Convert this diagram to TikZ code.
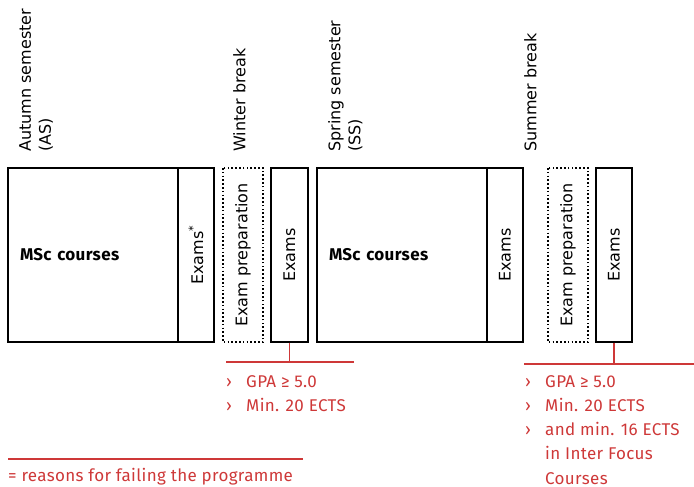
\documentclass[tikz,border=0pt]{standalone}
\usepackage{fontspec}
\setmainfont{DejaVu Sans}
\newfontfamily\dinfont[LetterSpace=2]{Fira Sans}
\usetikzlibrary{positioning}
\definecolor{failred}{RGB}{206,56,56}

\tikzset{
  phase/.style={draw, line width=1.2pt, minimum height=174pt, inner sep=0pt},
  examcol/.style={draw, line width=1.2pt, rotate=90, minimum width=174pt,
    minimum height=36pt, inner sep=0pt, font=\fontsize{16}{20}\selectfont},
  prepcol/.style={examcol, line width=1.6pt, dash pattern=on 1.6pt off 2.2pt},
  period/.style={rotate=90, anchor=north west, inner sep=0pt, align=left,
    font=\fontsize{16}{20}\selectfont},
  reason/.style={anchor=north west, inner sep=0pt, align=left, text=failred,
    font=\dinfont\fontsize{17}{24.1}\selectfont},
  redline/.style={draw=failred, line width=1.2pt}
}
\newcommand{\bul}{\makebox[20pt][l]{›}}

\begin{document}
\begin{tikzpicture}[x=1pt, y=-1pt]
  \useasboundingbox (0,0) rectangle (694,487);

  % autumn semester
  \node[phase, minimum width=170pt, text width=146pt, inner xsep=12pt, align=left,
    font=\dinfont\bfseries\fontsize{17}{20}\selectfont] (mscas) at (93,255) {MSc courses};
  \node[examcol, minimum height=36pt] (exas) at (196,255) {Exams\textsuperscript{*}};
  % winter break
  \node[prepcol, minimum height=40pt] (prepw) at (243,255) {Exam preparation};
  \node[examcol, minimum height=37pt] (exw) at (289.5,255) {Exams};
  % spring semester
  \node[phase, minimum width=170pt, text width=146pt, inner xsep=12pt, align=left,
    font=\dinfont\bfseries\fontsize{17}{20}\selectfont] (mscss) at (402,255) {MSc courses};
  \node[examcol, minimum height=36pt] (exss) at (505,255) {Exams};
  % summer break
  \node[prepcol, minimum height=40pt] (preps) at (568,255) {Exam preparation};
  \node[examcol, minimum height=36pt] (exs) at (614,255) {Exams};

  % period labels
  \node[period] (las) at (19,152) {Autumn semester\\(AS)};
  \node[period] (lwb) at (233,152) {Winter break};
  \node[period] (lss) at (328,152) {Spring semester\\(SS)};
  \node[period] (lsb) at (524,152) {Summer break};

  % failing conditions
  \coordinate (wl) at (226,362);
  \coordinate (wr) at (354,362);
  \draw[redline] (wl) -- (wr);
  \draw[redline] (exw.west) -- (exw.west |- wl);
  \node[reason] (rw) at (226,375.5) {\bul GPA ≥ 5.0\\ \bul Min. 20 ECTS};

  \coordinate (sl) at (524,364);
  \coordinate (sr) at (694,364);
  \draw[redline] (sl) -- (sr);
  \draw[redline] (exs.west) -- (exs.west |- sl);
  \node[reason] (rs) at (525,375.5) {\bul GPA ≥ 5.0\\ \bul Min. 20 ECTS\\
    \bul and min. 16 ECTS\\ \hspace*{20pt}in Inter Focus\\ \hspace*{20pt}Courses};

  % legend
  \coordinate (ll) at (8,459);
  \coordinate (lr) at (303,459);
  \draw[redline] (ll) -- (lr);
  \node[reason, anchor=north west] (leg) at (8,468) {= reasons for failing the programme};
\end{tikzpicture}
\end{document}
